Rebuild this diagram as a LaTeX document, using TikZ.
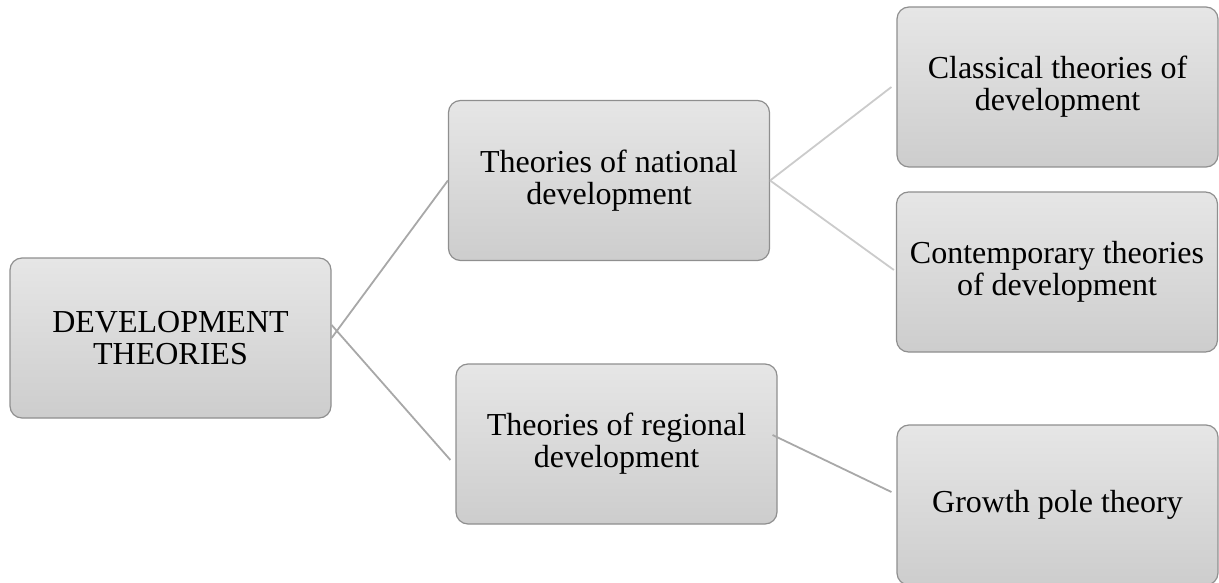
\documentclass[tikz,border=0pt]{standalone}
\usepackage{fontspec}
\setmainfont{Liberation Serif}
\definecolor{boxedge}{HTML}{8F8F8F}
\definecolor{boxtop}{HTML}{E6E6E6}
\definecolor{boxbottom}{HTML}{CDCDCD}
\definecolor{linkdark}{HTML}{A8A8A8}
\definecolor{linklight}{HTML}{CBCBCB}
\begin{document}
\begin{tikzpicture}[x=1pt,y=-1pt,
  topicbox/.style={draw=boxedge, line width=1.2pt, rounded corners=12pt,
    top color=boxtop, bottom color=boxbottom,
    minimum width=321pt, minimum height=160pt, inner sep=0pt,
    align=center, font=\fontsize{32}{32}\selectfont},
  linkdark/.style={draw=linkdark, line width=1.8pt},
  linklight/.style={draw=linklight, line width=1.8pt}]
\useasboundingbox (0,0) rectangle (1219,583);

% boxes
\node[topicbox] (root) at (170.5,338) {DEVELOPMENT\\THEORIES};
\node[topicbox] (nat)  at (609,180.5) {Theories of national\\development};
\node[topicbox] (reg)  at (616.5,444) {Theories of regional\\development};
\node[topicbox] (cls)  at (1057.5,87) {Classical theories of\\development};
\node[topicbox] (con)  at (1057,272) {Contemporary theories\\of development};
\node[topicbox] (grow) at (1057.5,505) {Growth pole theory};

% connectors
\draw[linkdark] (root.east) -- (nat.west);
\draw[linkdark] ([yshift=13pt]root.east) -- ([xshift=-5pt,yshift=-16pt]reg.west);
\draw[linklight] (nat.east) -- ([xshift=-5pt]cls.west);
\draw[linklight] (nat.east) -- ([xshift=-2pt,yshift=2pt]con.west);
\draw[linkdark] ([xshift=-5pt,yshift=9pt]reg.east) -- ([xshift=-5pt,yshift=13pt]grow.west);
\end{tikzpicture}
\end{document}
